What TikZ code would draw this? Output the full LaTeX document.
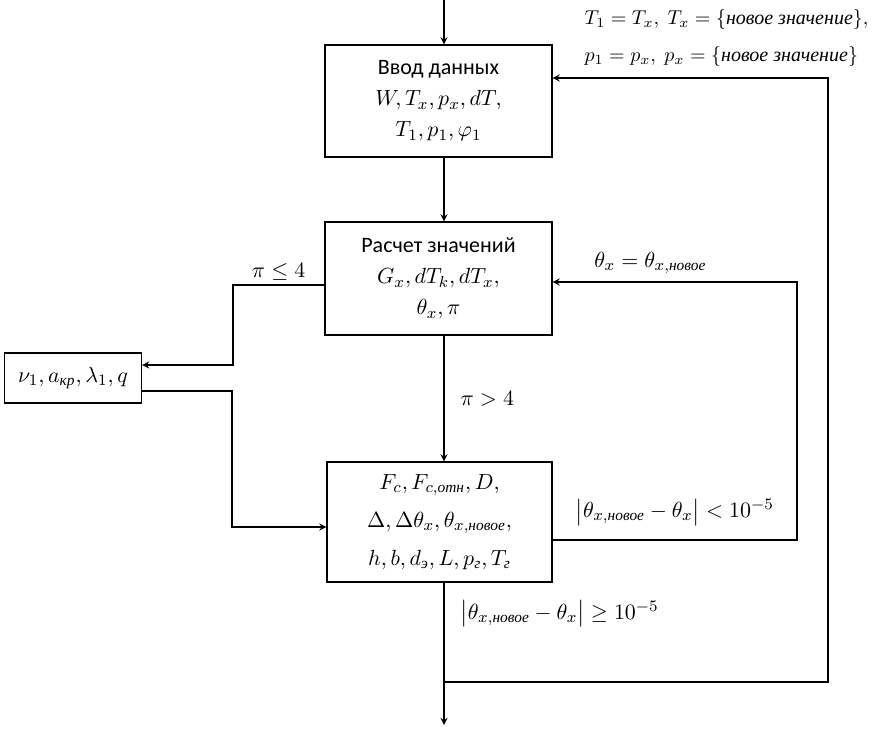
\documentclass[tikz,border=0pt]{standalone}
\usepackage{amsmath}
\usepackage{amssymb}
\usepackage{fontspec}
\setmainfont{Liberation Serif}
\newfontfamily\calibri{Carlito}
\usetikzlibrary{arrows,calc,positioning}
\tikzset{blk/.style={draw,rectangle,align=center,inner sep=2pt,font=\fontsize{11}{15.5}\selectfont}}
\tikzstyle{lbl}=[font=\fontsize{11}{13}\selectfont, inner sep=2pt]
\newcommand{\nov}{\text{\itshape новое}}
\newcommand{\newval}{\{\text{\itshape новое\ значение}\}}

\begin{document}
\begin{tikzpicture}[>=stealth, x=0.5pt, y=-0.5pt, line width=0.6pt]
\useasboundingbox (0,0) rectangle (887,731);
\node[blk, minimum width=113.5pt, minimum height=56pt] (input) at (438.5,101) {{\calibri Ввод данных}\\ $W, T_x, p_x, dT,$\\ $T_1, p_1, \varphi_1$};
\node[blk, minimum width=113.5pt, minimum height=56.5pt] (calc) at (438.5,278.5) {{\calibri Расчет значений}\\ $G_x, dT_k, dT_x,$\\ $\theta_x, \pi$};
\node[blk, minimum width=112.5pt, minimum height=60pt, font=\fontsize{11}{19}\selectfont] (res) at (439.5,522) {$F_c, F_{c,\text{\itshape отн}}, D,$\\ $\Delta, \Delta\theta_x, \theta_{x,\nov},$\\ $h, b, d_{\text{\itshape э}}, L, p_{\text{\itshape г}}, T_{\text{\itshape г}}$};
\node[blk, minimum width=68.5pt, minimum height=25pt] (param) at (73,378) {$\nu_1, a_{\text{\itshape кр}}, \lambda_1, q$};

\node[lbl, anchor=west, align=left, font=\fontsize{10}{18.5}\selectfont] (upd) at (580,38) {$T_1 = T_x,\ T_x = \newval,$\\ $p_1 = p_x,\ p_x = \newval$};

\coordinate (top) at (444,0);
\coordinate (out) at (444,725);
\coordinate (lk) at (233,285);
\coordinate (lk2) at (232,527);
\coordinate (rk) at (797,282);
\coordinate (rk2) at (797,540);
\coordinate (bk) at (444,682);
\coordinate (bk2) at (828,682);
\coordinate (tk) at (828,78);

\draw[->] (top) -- (top |- input.north);
\draw[->] (input.south -| top) -- (top |- calc.north);
\draw[->] (calc.south -| top) -- node[lbl, right=6pt] {$\pi > 4$} (top |- res.north);
\draw[->] (calc.west |- lk) -- node[lbl, above] {$\pi \leq 4$} (lk) |- ([yshift=6.5pt]param.east);
\draw[->] ([yshift=-6.5pt]param.east) -| (lk2) -- (res.west |- lk2);
\draw[->] (res.east |- rk2) -- node[lbl, above=5pt] {$\bigl|\theta_{x,\nov} - \theta_x\bigr| < 10^{-5}$} (rk2) -- (rk) -- node[lbl, above=2pt, pos=0.6] {$\theta_x = \theta_{x,\nov}$} (calc.east |- rk);
\draw[->] (res.south -| top) -- node[lbl, right=6pt, pos=0.22] {$\bigl|\theta_{x,\nov} - \theta_x\bigr| \geq 10^{-5}$} (out);
\draw[->] (bk) -- (bk2) -- (tk) -- (input.east |- tk);
\end{tikzpicture}
\end{document}
